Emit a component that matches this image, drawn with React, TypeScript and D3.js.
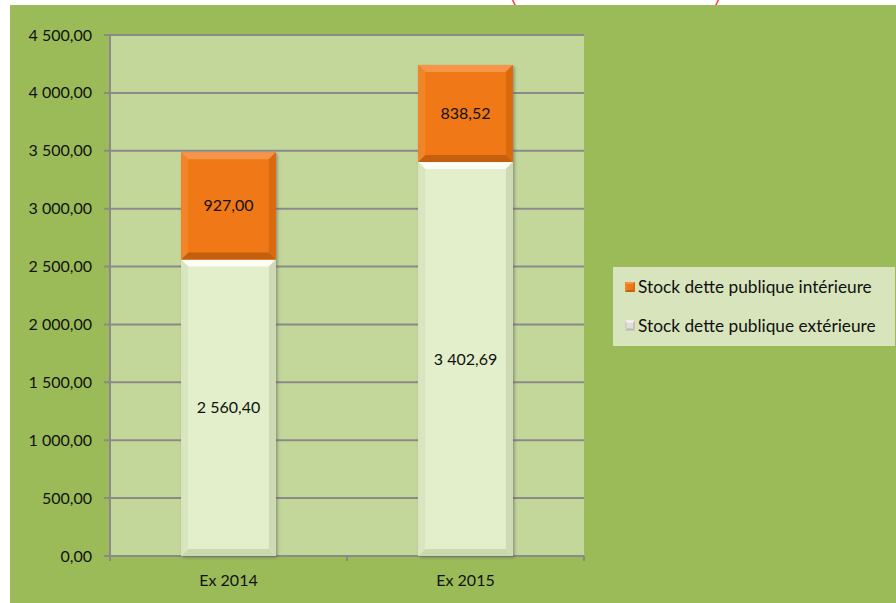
import React from "react";
import * as d3 from "d3";

const categories = ["Ex 2014", "Ex 2015"];
const exterieure = [2560.4, 3402.69];
const interieure = [927.0, 838.52];
const seriesNames = ["Stock dette publique intérieure", "Stock dette publique extérieure"];
const yTicks = [0, 500, 1000, 1500, 2000, 2500, 3000, 3500, 4000, 4500];

const W = 896;
const H = 603;
const FONT = "Lato, 'Open Sans', sans-serif";

const loc = d3.formatLocale({ decimal: ",", thousands: " ", grouping: [3], currency: ["", ""] });
const fmt = loc.format(",.2f");

type Pal = { main: string; top: string; bottom: string; left: string; right: string };
const orange: Pal = { main: "#f07814", top: "#f4954a", bottom: "#c4610e", left: "#f2852a", right: "#da6b10" };
const light: Pal = { main: "#e2efca", top: "#fcfef5", bottom: "#cad8b0", left: "#d8e5bf", right: "#cddab4" };
const lightLeg: Pal = { main: "#e0e0d8", top: "#f8f8f4", bottom: "#b8b8b0", left: "#d0d0c8", right: "#c4c4bc" };

function Bevel({ x, y, w, h, p, b = 7 }: { x: number; y: number; w: number; h: number; p: Pal; b?: number }) {
  const pts = (a: number[][]) => a.map((q) => q.join(",")).join(" ");
  return (
    <g>
      <rect x={x} y={y} width={w} height={h} fill={p.main} />
      <polygon points={pts([[x, y], [x + w, y], [x + w - b, y + b], [x + b, y + b]])} fill={p.top} />
      <polygon points={pts([[x, y + h], [x + w, y + h], [x + w - b, y + h - b], [x + b, y + h - b]])} fill={p.bottom} />
      <polygon points={pts([[x, y], [x + b, y + b], [x + b, y + h - b], [x, y + h]])} fill={p.left} />
      <polygon points={pts([[x + w, y], [x + w - b, y + b], [x + w - b, y + h - b], [x + w, y + h]])} fill={p.right} />
    </g>
  );
}

export default function App() {
  const plotL = 110, plotR = 584, plotT = 35, plotB = 556;
  const y = d3.scaleLinear().domain([0, 4500]).range([plotB, plotT]);
  const x = d3.scaleBand().domain(categories).range([plotL, plotR]).paddingInner(0.6).paddingOuter(0.3);
  const bw = x.bandwidth();
  const cat = d3.scaleBand().domain(categories).range([plotL, plotR]).padding(0);

  return (
    <svg width={W} height={H} style={{ position: "absolute", left: 0, top: 0 }} fontFamily={FONT}>
      <defs>
        <filter id="sh" x="-20%" y="-20%" width="140%" height="140%">
          <feDropShadow dx="1.5" dy="1.5" stdDeviation="1.5" floodColor="#555" floodOpacity="0.55" />
        </filter>
      </defs>
      <rect x={0} y={0} width={W} height={H} fill="#ffffff" />
      <rect x={511} y={-40} width={209} height={60} rx={30} ry={30} fill="none" stroke="#ff3b3b" strokeWidth={1.5} />
      <rect x={10} y={5} width={W - 10} height={H - 5} fill="#9bbb59" />
      <rect x={plotL} y={plotT} width={plotR - plotL} height={plotB - plotT} fill="#c4d79b" />
      {yTicks.map((t) => (
        <g key={t}>
          <line x1={104} x2={plotR} y1={y(t)} y2={y(t)} stroke="#8a8a8a" strokeWidth={2} />
          <text x={92} y={y(t)} dy="0.35em" textAnchor="end" fontSize={16} fill="#111">
            {fmt(t)}
          </text>
        </g>
      ))}
      <line x1={plotL} x2={plotL} y1={plotT} y2={plotB + 5} stroke="#8a8a8a" strokeWidth={2} />
      {categories.map((c, i) => (
        <line key={"xt" + i} x1={cat(c) as number} x2={cat(c) as number} y1={plotB} y2={plotB + 5} stroke="#8a8a8a" strokeWidth={2} />
      ))}
      <line x1={plotR} x2={plotR} y1={plotB} y2={plotB + 5} stroke="#8a8a8a" strokeWidth={2} />
      {categories.map((c, i) => {
        const x0 = x(c) as number;
        const yE = y(exterieure[i]);
        const yI = y(exterieure[i] + interieure[i]);
        return (
          <g key={c}>
            <g filter="url(#sh)">
              <Bevel x={x0} y={yE} w={bw} h={plotB - yE} p={light} />
              <Bevel x={x0} y={yI} w={bw} h={yE - yI} p={orange} />
            </g>
            <text x={x0 + bw / 2} y={(yI + yE) / 2} dy="0.35em" textAnchor="middle" fontSize={16} fill="#111">
              {fmt(interieure[i])}
            </text>
            <text x={x0 + bw / 2} y={(yE + plotB) / 2} dy="0.35em" textAnchor="middle" fontSize={16} fill="#111">
              {fmt(exterieure[i])}
            </text>
            <text x={x0 + bw / 2} y={580} dy="0.35em" textAnchor="middle" fontSize={16} fill="#111">
              {c}
            </text>
          </g>
        );
      })}
      <rect x={613} y={267} width={282} height={79} fill="#d8e4bc" />
      {seriesNames.map((s, i) => {
        const cy = 287 + i * 38.5;
        const p = i === 0 ? orange : lightLeg;
        return (
          <g key={s}>
            <Bevel x={625} y={cy - 5} w={10} h={10} p={p} b={2} />
            <text x={638} y={cy} dy="0.35em" fontSize={17.3} fill="#111">
              {s}
            </text>
          </g>
        );
      })}
    </svg>
  );
}
